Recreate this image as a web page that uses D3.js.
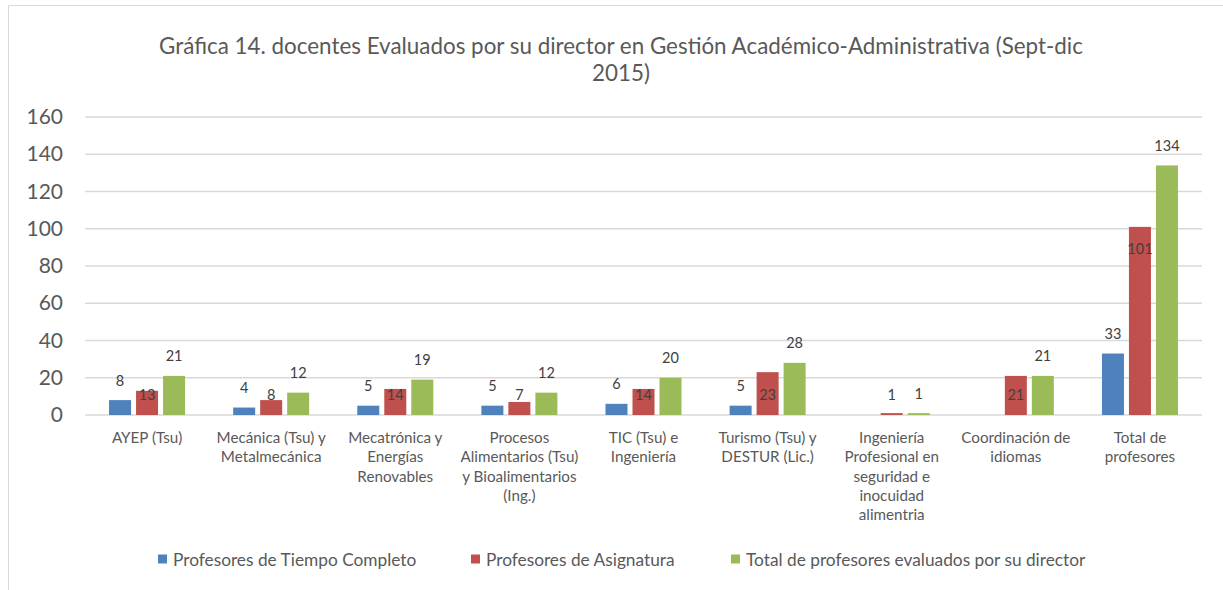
<!DOCTYPE html>
<html>
<head>
<meta charset="utf-8">
<script src="https://cdn.jsdelivr.net/npm/d3@7"></script>
<style>
  body { margin: 0; background: #fff; }
  text { font-family: Lato, "Open Sans", sans-serif; }
</style>
</head>
<body>
<div id="chart"></div>
<script>
// chart data
const categories = [
    ["AYEP (Tsu)"],
    ["Mecánica (Tsu) y", "Metalmecánica"],
    ["Mecatrónica y", "Energías", "Renovables"],
    ["Procesos", "Alimentarios (Tsu)", "y Bioalimentarios", "(Ing.)"],
    ["TIC (Tsu) e", "Ingeniería"],
    ["Turismo (Tsu) y", "DESTUR (Lic.)"],
    ["Ingeniería", "Profesional en", "seguridad e", "inocuidad", "alimentria"],
    ["Coordinación de", "idiomas"],
    ["Total de", "profesores"]
];
const seriesNames = ["Profesores de Tiempo Completo", "Profesores de Asignatura", "Total de profesores evaluados por su director"];
const tiempoCompleto = [8, 4, 5, 5, 6, 5, null, null, 33];
const asignatura = [13, 8, 14, 7, 14, 23, 1, 21, 101];
const totalEvaluados = [21, 12, 19, 12, 20, 28, 1, 21, 134];
const yTicks = [0, 20, 40, 60, 80, 100, 120, 140, 160];
const titleLines = ["Gráfica 14. docentes Evaluados por su director en Gestión Académico-Administrativa (Sept-dic", "2015)"];

const seriesValues = [tiempoCompleto, asignatura, totalEvaluados];
const color = d3.scaleOrdinal().domain(seriesNames).range(["#4F81BD", "#C0504D", "#9BBB59"]);

const width = 1223, height = 590;
const margin = { top: 117, right: 21, bottom: 175, left: 85 };

const svg = d3.select("#chart")
    .append("svg")
    .attr("width", width)
    .attr("height", height);

// chart frame
svg.append("path")
    .attr("d", `M8.5,${height} V5.5 H${width}`)
    .attr("fill", "none")
    .attr("stroke", "#D9D9D9")
    .attr("stroke-width", 1);

// title
svg.append("g")
    .selectAll("text")
    .data(titleLines)
    .join("text")
    .attr("x", 621)
    .attr("y", (d, i) => 45 + i * 27)
    .attr("text-anchor", "middle")
    .attr("dominant-baseline", "central")
    .attr("fill", "#595959")
    .attr("font-size", 22.4)
    .text(d => d);

const x0 = d3.scaleBand()
    .domain(d3.range(categories.length))
    .range([margin.left, width - margin.right]);

const x1 = d3.scaleBand()
    .domain(seriesNames)
    .range([-38, 38])
    .paddingInner(0.185);

const y = d3.scaleLinear()
    .domain([0, 160])
    .range([height - margin.bottom, margin.top]);

// gridlines
svg.append("g")
    .selectAll("line")
    .data(yTicks)
    .join("line")
    .attr("x1", margin.left)
    .attr("x2", width - margin.right)
    .attr("y1", d => y(d))
    .attr("y2", d => y(d))
    .attr("stroke", "#D9D9D9")
    .attr("stroke-width", 1.5);

// y axis labels
const yAxis = svg.append("g")
    .attr("transform", `translate(${margin.left - 22},0)`)
    .call(d3.axisLeft(y).tickValues(yTicks).tickSize(0).tickPadding(0));
yAxis.select(".domain").remove();
yAxis.selectAll("text")
    .attr("fill", "#595959")
    .attr("font-size", 21)
    .attr("font-family", "Lato, 'Open Sans', sans-serif");

// bars
const barData = seriesValues.flatMap((vals, s) =>
    vals.map((v, i) => ({ series: seriesNames[s], s: s, i: i, value: v })))
    .filter(d => d.value != null);

const bars = svg.append("g");
bars.selectAll("rect")
    .data(barData)
    .join("rect")
    .attr("x", d => x0(d.i) + x0.bandwidth() / 2 + x1(d.series))
    .attr("width", x1.bandwidth())
    .attr("y", d => y(d.value))
    .attr("height", d => y(0) - y(d.value))
    .attr("fill", d => color(d.series));

// value labels: outside end for blue/green, inside end (clamped) for red
svg.append("g")
    .selectAll("text")
    .data(barData)
    .join("text")
    .attr("x", d => x0(d.i) + x0.bandwidth() / 2 + x1(d.series) + x1.bandwidth() / 2)
    .attr("y", d => d.s === 1 ? Math.min(y(d.value) + 22, y(0) - 21) : y(d.value) - 20)
    .attr("text-anchor", "middle")
    .attr("dominant-baseline", "central")
    .attr("fill", "#404040")
    .attr("font-size", 14.5)
    .text(d => d.value);

// category labels
const catGroups = svg.append("g")
    .selectAll("g")
    .data(categories)
    .join("g")
    .attr("transform", (d, i) => `translate(${x0(i) + x0.bandwidth() / 2},437)`);
catGroups.selectAll("text")
    .data(d => d)
    .join("text")
    .attr("y", (d, i) => i * 19.3)
    .attr("text-anchor", "middle")
    .attr("dominant-baseline", "central")
    .attr("fill", "#595959")
    .attr("font-size", 15.2)
    .text(d => d);

// legend
const legendX = [158, 471, 731];
const legend = svg.append("g")
    .selectAll("g")
    .data(seriesNames)
    .join("g")
    .attr("transform", (d, i) => `translate(${legendX[i]},559)`);
legend.append("rect")
    .attr("x", 0)
    .attr("y", -4.5)
    .attr("width", 9)
    .attr("height", 9)
    .attr("fill", d => color(d));
legend.append("text")
    .attr("x", 15)
    .attr("dominant-baseline", "central")
    .attr("fill", "#595959")
    .attr("font-size", 17.3)
    .text(d => d);
</script>
</body>
</html>
